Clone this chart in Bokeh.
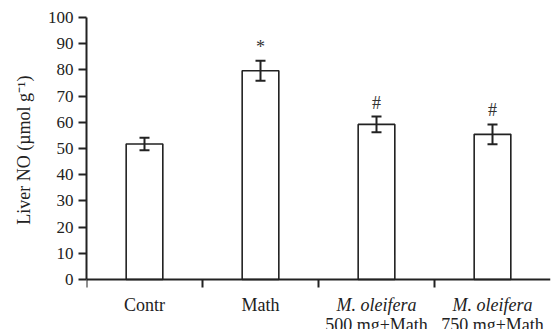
from bokeh.plotting import figure
from bokeh.models import ColumnDataSource, Whisker, TeeHead, FixedTicker, Title
from bokeh.core.properties import value
from bokeh.embed import file_html
from bokeh.resources import INLINE

# ---- data ----
categories = ["Contr", "Math", "M. oleifera 500 mg+Math", "M. oleifera 750 mg+Math"]
label_line1 = ["Contr", "Math", "M. oleifera", "M. oleifera"]
label_line1_style = ["normal", "normal", "italic", "italic"]
label_line2 = ["", "", "500 mg+Math", "750 mg+Math"]
means = [51.7, 79.7, 59.2, 55.4]
errors = [2.4, 3.8, 3.0, 3.8]
signif = ["", "*", "#", "#"]
y_ticks = [0, 10, 20, 30, 40, 50, 60, 70, 80, 90, 100]
x_sep_ticks = [0, 1, 2, 3]
y_title = "Liver NO (µmol g⁻¹)"

FONT = "Liberation Serif"
INK = "#222222"

W, H = 552, 329
LEFT, RIGHT, TOP = 86, 2, 17
PX_PER_UNIT = 262 / 100.0          # vertical scale (px per data unit)
BELOW_PX = 50                      # space below y=0 down to the canvas edge

def px(v):
    return v / PX_PER_UNIT

xs = [i + 0.5 for i in range(len(categories))]
upper = [m + e for m, e in zip(means, errors)]
lower = [m - e for m, e in zip(means, errors)]
src = ColumnDataSource(dict(x=xs, top=means, upper=upper, lower=lower,
                            sig=signif, sig_y=[u + px(14) for u in upper]))
lab1 = ColumnDataSource(dict(x=xs, text=label_line1, style=label_line1_style,
                             y=[-px(25)] * len(xs)))
lab2 = ColumnDataSource(dict(x=xs, text=label_line2, y=[-px(45)] * len(xs)))

p = figure(width=W, height=H, x_range=(0, len(categories)),
           y_range=(-px(BELOW_PX), 100),
           output_backend="svg", toolbar_location=None,
           min_border_left=LEFT, min_border_right=RIGHT, min_border_top=TOP,
           min_border_bottom=0)
p.outline_line_color = None
p.grid.visible = False
p.xaxis.visible = False
p.background_fill_color = "white"
p.border_fill_color = "white"

p.vbar(x="x", top="top", width=0.316, bottom=0, source=src,
       fill_color="white", line_color=INK, line_width=1.6)

tee_u = TeeHead(size=10, line_width=2, line_color=INK)
tee_l = TeeHead(size=10, line_width=2, line_color=INK)
p.add_layout(Whisker(source=src, base="x", upper="upper", lower="lower",
                     line_width=2, line_color=INK, level="overlay",
                     upper_head=tee_u, lower_head=tee_l))

p.text(x="x", y="sig_y", text="sig", source=src, text_align="center",
       text_baseline="alphabetic", text_font=value(FONT),
       text_font_size="18px", text_color="#333333")

# x axis drawn as line + separator ticks
p.segment(x0=[0], y0=[0], x1=[len(categories)], y1=[0], line_color=INK, line_width=2)
p.segment(x0=x_sep_ticks, y0=[0] * len(x_sep_ticks), x1=x_sep_ticks,
          y1=[-px(8)] * len(x_sep_ticks), line_color=INK, line_width=2)

# category labels
p.text(x="x", y="y", text="text", source=lab1, text_align="center",
       text_baseline="alphabetic", text_font=value(FONT), text_font_style="style",
       text_font_size="18px", text_color=INK)
p.text(x="x", y="y", text="text", source=lab2, text_align="center",
       text_baseline="alphabetic", text_font=value(FONT),
       text_font_size="18px", text_color=INK)

# y axis
ya = p.yaxis[0]
ya.bounds = (0, 100)
ya.ticker = FixedTicker(ticks=y_ticks)
ya.minor_tick_line_color = None
ya.major_tick_out = 8
ya.major_tick_in = 0
ya.major_label_standoff = 5
ya.major_label_text_font = FONT
ya.major_label_text_font_size = "17px"
ya.major_label_text_color = INK
ya.axis_line_width = 2
ya.axis_line_color = INK
ya.major_tick_line_width = 2
ya.major_tick_line_color = INK

t = Title(text=y_title, align="right", offset=58, text_font=FONT,
          text_font_size="18px", text_font_style="normal", text_color=INK,
          standoff=22)
p.add_layout(t, "left")

open("out.html", "w").write(file_html(p, INLINE))
